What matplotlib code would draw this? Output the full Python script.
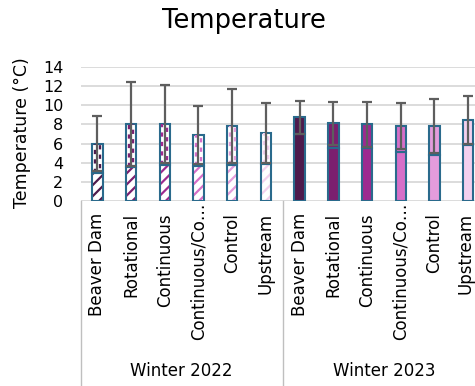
import numpy as np
import matplotlib
matplotlib.use("Agg")
import matplotlib.pyplot as plt
from matplotlib.transforms import blended_transform_factory, offset_copy

plt.rcParams['font.family'] = ['DejaVu Sans']
plt.rcParams['hatch.linewidth'] = 1.6

# ---- data ----
sites = ["Beaver Dam", "Rotational", "Continuous", "Continuous/Co\u2026", "Control", "Upstream"]
seasons = ["Winter 2022", "Winter 2023"]

lower_2022 = [2.9, 3.5, 3.75, 3.7, 3.8, 3.9]
upper_2022 = [3.1, 4.55, 4.3, 3.2, 4.0, 3.2]
err_2022 = [2.85, 4.4, 4.1, 3.0, 3.85, 3.15]

lower_2023 = [6.95, 5.5, 5.5, 5.15, 4.8, 5.85]
upper_2023 = [1.8, 2.6, 2.5, 2.7, 3.05, 2.65]
err_2023 = [1.75, 2.25, 2.35, 2.4, 2.85, 2.5]

y_ticks = [0, 2, 4, 6, 8, 10, 12, 14]

# ---- styling ----
site_colors = ["#4E1A4C", "#7B1F6F", "#9D2A90", "#D66FC8", "#E49CDC", "#F3D0EE"]
edge_blue = "#2A6A8C"
err_gray = "#5E5E5E"
grid_gray = "#D9D9D9"
box_gray = "#BFBFBF"
bar_w = 0.31

W, H = 475, 386
fig = plt.figure(figsize=(W / 100, H / 100), dpi=100)
ax_left, ax_right, ax_bottom, ax_top = 80.5, 485.0, 201.0, 67.0
ax = fig.add_axes([ax_left / W, 1 - ax_bottom / H, (ax_right - ax_left) / W, (ax_bottom - ax_top) / H])

n = len(sites)
x = np.arange(2 * n)
lower = np.array(lower_2022 + lower_2023)
upper = np.array(upper_2022 + upper_2023)
err = np.array(err_2022 + err_2023)
colors = site_colors * 2
total = lower + upper

for i in range(2 * n):
    col = colors[i]
    if i < n:
        # lower segment: diagonal stripes on white
        ax.bar(x[i], lower[i], width=bar_w, color="white", edgecolor=col,
               linewidth=0, hatch="///", zorder=2)
        ax.bar(x[i], lower[i], width=bar_w, fill=False, edgecolor=edge_blue,
               linewidth=1.5, zorder=3)
        # upper segment: columns of short vertical dashes on white
        top_bar = ax.bar(x[i], upper[i], bottom=lower[i], width=bar_w, color="white",
                         edgecolor=edge_blue, linewidth=1.5, zorder=2)[0]
        for k, dx in enumerate((-0.07, 0.07)):
            ln, = ax.plot([x[i] + dx, x[i] + dx], [lower[i], total[i]], color=col,
                          lw=1.7, linestyle=(2.0 * k, (1.8, 2.2)),
                          solid_capstyle="butt", dash_capstyle="butt", zorder=2.5)
            ln.set_clip_path(top_bar)
    else:
        ax.bar(x[i], lower[i], width=bar_w, color=col, edgecolor=edge_blue,
               linewidth=1.5, zorder=2)
        ax.bar(x[i], upper[i], bottom=lower[i], width=bar_w, color=col,
               edgecolor=edge_blue, linewidth=1.5, zorder=2)

ax.errorbar(x, total, yerr=err, fmt="none", ecolor=err_gray, elinewidth=1.6,
            capsize=3.3, capthick=1.6, zorder=4)

ax.set_xlim(-0.5, 2 * n - 0.5)
ax.set_ylim(0, 14)
ax.set_yticks(y_ticks)
ax.set_yticklabels([str(v) for v in y_ticks], fontsize=11.5)
ax.tick_params(axis="y", length=0, pad=12.5, colors="black")
ax.tick_params(axis="x", length=0, labelbottom=False)
ax.set_xticks([])
ax.grid(axis="y", color=grid_gray, linewidth=1.3, zorder=0)
ax.set_axisbelow(True)
for s in ax.spines.values():
    s.set_visible(False)

# category labels and group boxes below the axis
tr = blended_transform_factory(ax.transData, ax.transAxes)
tr_last = offset_copy(tr, fig=fig, x=-3, units="dots")
px = 1.0 / (ax_bottom - ax_top)
for i in range(2 * n):
    name = sites[i % n]
    y_top = -(213 - ax_bottom) * px if not name.endswith("\u2026") else -(203 - ax_bottom) * px
    ax.text(x[i], y_top, name, rotation=90, ha="center", va="top",
            fontsize=12, transform=tr_last if i == 2 * n - 1 else tr, clip_on=False)

y_bottom_fig = -(H - ax_bottom) * px
for b in (-0.5, n - 0.5, 2 * n - 0.5):
    ax.plot([b, b], [0, y_bottom_fig], color=box_gray, lw=1.0, transform=tr,
            clip_on=False, zorder=1)
for g, season in enumerate(seasons):
    ax.text(g * n + (n - 1) / 2, -(371 - ax_bottom) * px, season, ha="center",
            va="center", fontsize=12, transform=tr, clip_on=False)

fig.text(22 / W, 1 - 133 / H, "Temperature (\u00b0C)", rotation=90, ha="center",
         va="center", fontsize=12.5)
fig.text(243.5 / W, 1 - 21 / H, "Temperature", ha="center", va="center", fontsize=18.5)

fig.savefig("out.png", dpi=100)
